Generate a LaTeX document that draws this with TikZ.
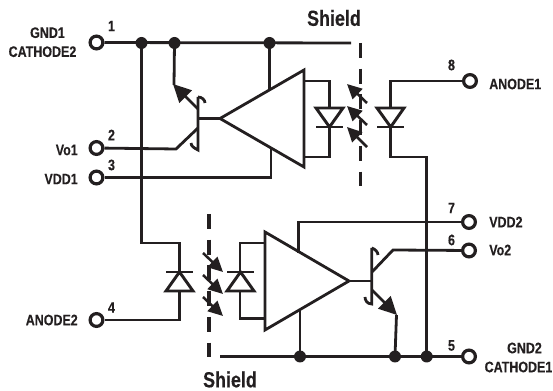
\documentclass[tikz,border=0pt]{standalone}
\usepackage{fontspec}
\setmainfont[FakeStretch=0.82,BoldFeatures={FakeBold=0.25}]{Liberation Sans}
\usetikzlibrary{arrows.meta}
\definecolor{ink}{HTML}{231F20}
\tikzset{
  x=0.75pt,y=-0.75pt,
  wire/.style={draw=ink,line width=2.1pt,line join=miter},
  term/.style={circle,draw=ink,line width=2.4pt,fill=white,minimum size=9.6pt,inner sep=0pt},
  junc/.style={circle,fill=ink,minimum size=9pt,inner sep=0pt},
  lbl/.style={font=\bfseries\fontsize{11.4pt}{14.25pt}\selectfont,text=ink,inner sep=0pt,align=center},
  shieldtxt/.style={font=\bfseries\fontsize{16.4pt}{17pt}\selectfont,text=ink,inner sep=0pt},
  shieldline/.style={draw=ink,line width=2.3pt,dash pattern=on 11.2pt off 8.1pt},
  ledarrow/.style={wire,line width=1.9pt,-{Triangle[length=11pt,width=10.5pt]}},
  emitarrow/.style={wire,-{Triangle[length=13.5pt,width=13pt]}},
  dtri/.style={draw=ink,line width=2.2pt,line join=miter,fill=white},
}
\begin{document}
\begin{tikzpicture}
\useasboundingbox (0,0) rectangle (553,391);
% terminals
\node[term] (t1) at (96.5,42.5) {};
\node[term] (t2) at (96.5,148) {};
\node[term] (t3) at (96.5,177.5) {};
\node[term] (t4) at (96.5,320) {};
\node[term] (t5) at (469,356.5) {};
\node[term] (t6) at (469,250.5) {};
\node[term] (t7) at (469,222) {};
\node[term] (t8) at (470,81) {};
\coordinate (busend) at (351,43);
\coordinate (busstart) at (220,356.5);
\coordinate (A1) at (220,118.5);
\coordinate (A1t) at (304,70);
\coordinate (A1b) at (304,167);
\coordinate (A2) at (349,281);
\coordinate (A2t) at (265,232);
\coordinate (A2b) at (265,330);
% top amp and output diode wires
\draw[wire] (t1) -- (busend);
\draw[wire] (141.5,43) |- (179.5,243) -- (179.5,272);
\draw[wire] (179.5,291) |- (t4);
\draw[wire] (174.5,43) -- (174,85);
\draw[wire] (269.5,43) -- (269.5,91);
\draw[wire] (t2) -- (176,149) -- (198,128);
\draw[wire] (t3) -| (271,149);
\draw[wire] (198,118.5) -- (A1);
\draw[wire] (A1) -- (A1t) -- (A1b) -- cycle;
\draw[wire] (304,81) -| (329.5,108);
\draw[wire] (329.5,127) |- (304,157);
% top transistor
\draw[wire] (198,97) -- (198,150) .. controls (194,148) and (191,146) .. (191,143);
\draw[wire] (198,97) .. controls (202,97) and (205,100) .. (205,103);
\draw[emitarrow] (198,109) -- (173,84);
% top diodes
\draw[dtri] (316,108) -- (343,108) -- (329.5,127) -- cycle;
\draw[wire] (316,127) -- (343,127);
\draw[dtri] (377,108) -- (404,108) -- (390.7,127) -- cycle;
\draw[wire] (377,127) -- (404,127);
\draw[wire] (t8) -| (390.7,108);
\draw[wire] (390.7,127) |- (426.7,157) -- (426.7,356.5);
% shield 1
\draw[shieldline] (360.7,43) -- (360.7,186);
\draw[ledarrow] (367,103) -- (347,84);
\draw[ledarrow] (367,125) -- (347,106);
\draw[ledarrow] (367,147) -- (347,127);
% lower amp
\draw[wire] (A2) -- (A2t) -- (A2b) -- cycle;
\draw[wire] (A2) -- (372,281);
\draw[wire] (265,243) -| (240,272);
\draw[wire] (240,291) |- (265,318.7);
\draw[wire] (t7) -| (298.5,253);
\draw[wire] (t6) -- (393,250) -- (372,272);
\draw[wire] (300,356.5) -- (300,310);
\draw[wire] (busstart) -- (t5);
\draw[wire] (371.7,248) -- (371.7,304) .. controls (367,304) and (365,300) .. (365,297);
\draw[wire] (371.7,248) .. controls (375,249) and (378,252) .. (378,255);
\draw[emitarrow] (372,290) -- (397,315);
\draw[wire] (396.5,315) -- (395,356.5);
% lower diodes
\draw[dtri] (166,291) -- (193,291) -- (179.5,272) -- cycle;
\draw[wire] (166,272) -- (193,272);
\draw[dtri] (227,291) -- (254,291) -- (240.5,272) -- cycle;
\draw[wire] (227,272) -- (254,272);
% shield 2
\draw[shieldline] (209,214) -- (209,357);
\draw[ledarrow] (203,253) -- (223,272);
\draw[ledarrow] (203,275) -- (223,294);
\draw[ledarrow] (203,297) -- (223,316);
% dots
\foreach \n/\p in {j1/{141.5,43},j2/{174.5,43},j3/{269.5,43},j4/{300,356.5},j5/{395,356.5},j6/{426.7,356.5}}
  \node[junc] (\n) at (\p) {};
% text
\node[lbl] (n1) at (111.5,26) {1};
\node[lbl] (n2) at (111.5,135) {2};
\node[lbl] (n3) at (111.5,165) {3};
\node[lbl] (n4) at (111.5,307.5) {4};
\node[lbl] (n5) at (451.5,345.5) {5};
\node[lbl] (n6) at (451.5,240) {6};
\node[lbl] (n7) at (451.5,208) {7};
\node[lbl] (n8) at (451.5,65) {8};
\node[lbl] (l1) at (42.5,42.2) {\hspace*{7.5pt}GND1\\CATHODE2};
\node[lbl,anchor=east] (l2) at (78,150) {Vo1};
\node[lbl,anchor=east] (l3) at (78,179) {VDD1};
\node[lbl,anchor=east] (l4) at (78,320) {ANODE2};
\node[lbl,anchor=west] (l5) at (489,84) {ANODE1};
\node[lbl,anchor=west] (l6) at (489,222) {VDD2};
\node[lbl,anchor=west] (l7) at (489,250) {Vo2};
\node[lbl] (l8) at (518.5,357.5) {\hspace*{9pt}GND2\\CATHODE1};
\node[shieldtxt] (s1) at (334,18) {Shield};
\node[shieldtxt] (s2) at (230,379.5) {Shield};
\end{tikzpicture}
\end{document}
